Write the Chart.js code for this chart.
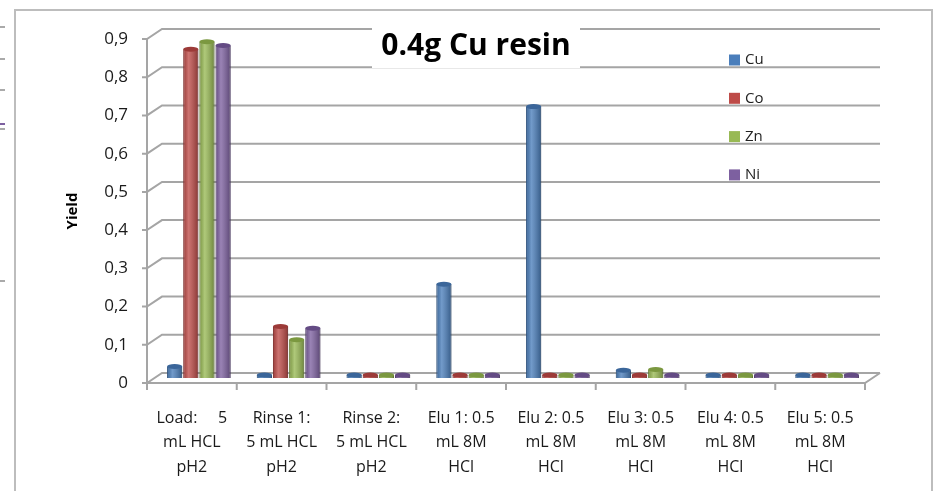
<!DOCTYPE html>
<html>
<head>
<meta charset="utf-8">
<script src="https://cdn.jsdelivr.net/npm/chart.js@4.4.1/dist/chart.umd.min.js"></script>
<style>
    body { margin: 0; background: #fff; }
    #wrap { position: relative; width: 936px; height: 491px; overflow: hidden; }
    #yieldChart { position: absolute; left: 0; top: 0; }
    .frame { position: absolute; left: 14px; top: 9px; width: 919px; height: 520px;
             border: 2px solid #bdbdbd; box-sizing: border-box; }
    .dash { position: absolute; left: 0; width: 5px; height: 2px; background: #aaa; }
</style>
</head>
<body>
<div id="wrap">
    <div class="dash" style="top:26px"></div>
    <div class="dash" style="top:58px"></div>
    <div class="dash" style="top:89px"></div>
    <div class="dash" style="top:123px;background:#7d60a0"></div>
    <div class="dash" style="top:128px"></div>
    <div class="dash" style="top:280px"></div>
    <div class="frame"></div>
    <canvas id="yieldChart" width="936" height="491"></canvas>
</div>
<script>
const categories = [
    ['Load:     5', 'mL HCL', 'pH2'],
    ['Rinse 1:', '5 mL HCL', 'pH2'],
    ['Rinse 2:', '5 mL HCL', 'pH2'],
    ['Elu 1: 0.5', 'mL 8M', 'HCl'],
    ['Elu 2: 0.5', 'mL 8M', 'HCl'],
    ['Elu 3: 0.5', 'mL 8M', 'HCl'],
    ['Elu 4: 0.5', 'mL 8M', 'HCl'],
    ['Elu 5: 0.5', 'mL 8M', 'HCl']
];

const cuValues = [0.03, 0.002, 0.002, 0.245, 0.71, 0.02, 0.002, 0.002];
const coValues = [0.86, 0.135, 0.002, 0.003, 0.005, 0.003, 0.002, 0.002];
const znValues = [0.88, 0.10, 0.002, 0.002, 0.003, 0.022, 0.002, 0.002];
const niValues = [0.87, 0.13, 0.002, 0.002, 0.003, 0.003, 0.002, 0.002];

const yTickLabels = ['0', '0,1', '0,2', '0,3', '0,4', '0,5', '0,6', '0,7', '0,8', '0,9'];

const chartTitle = '0.4g Cu resin';

// 3D look: back wall offset and half-depth shift for the bars
const depthX = 15, depthY = 10;
const barShiftX = 7, barShiftY = -5;

const darker = {
    '#4a7ebb': '#3b669a',
    '#be4b48': '#9c3a38',
    '#98b954': '#7b9840',
    '#7d60a0': '#644b84'
};

const excel3d = {
    id: 'excel3d',
    beforeDatasetsDraw(chart) {
        const ctx = chart.ctx;
        const a = chart.chartArea;
        const y = chart.scales.y;
        ctx.save();
        ctx.strokeStyle = '#a5a5a5';
        ctx.lineWidth = 2;
        ctx.beginPath();
        y.ticks.forEach((t, i) => {
            const py = y.getPixelForTick(i);
            ctx.moveTo(a.left - 5, py);
            ctx.lineTo(a.left, py);
            ctx.lineTo(a.left + depthX, py - depthY);
            ctx.lineTo(a.right + depthX, py - depthY);
        });
        ctx.moveTo(a.left, a.top);
        ctx.lineTo(a.left, a.bottom);
        ctx.lineTo(a.right, a.bottom);
        ctx.lineTo(a.right + depthX, a.bottom - depthY);
        const n = chart.data.labels.length;
        for (let i = 0; i <= n; i++) {
            const px = a.left + (a.right - a.left) * i / n;
            ctx.moveTo(px, a.bottom);
            ctx.lineTo(px, a.bottom + 7);
        }
        ctx.stroke();

        // title box over the wall
        ctx.fillStyle = '#fff';
        ctx.fillRect(372, 24, 208, 44);
        ctx.fillStyle = '#000';
        ctx.font = 'bold 30px "Open Sans"';
        ctx.textAlign = 'center';
        ctx.textBaseline = 'middle';
        ctx.fillText(chartTitle, 476, 46);
        ctx.restore();

        ctx.save();
        ctx.translate(barShiftX, barShiftY);
    },
    afterDatasetsDraw(chart) {
        const ctx = chart.ctx;
        chart.data.datasets.forEach((ds, di) => {
            chart.getDatasetMeta(di).data.forEach(bar => {
                const w = bar.width;
                const left = bar.x - w / 2;
                const top = Math.min(bar.y, bar.base);
                const h = Math.abs(bar.base - bar.y);
                const g = ctx.createLinearGradient(left, 0, left + w, 0);
                g.addColorStop(0, 'rgba(0,0,0,0.18)');
                g.addColorStop(0.35, 'rgba(255,255,255,0.22)');
                g.addColorStop(1, 'rgba(0,0,0,0.28)');
                ctx.fillStyle = g;
                ctx.fillRect(left, top, w, h);
                ctx.beginPath();
                ctx.ellipse(bar.x, top, w / 2, 2.5, 0, 0, Math.PI * 2);
                ctx.fillStyle = darker[ds.backgroundColor];
                ctx.fill();
            });
        });
        ctx.restore();
    },
    afterDraw(chart) {
        const ctx = chart.ctx;
        ctx.save();
        ctx.font = '15px "Open Sans"';
        ctx.textBaseline = 'middle';
        ctx.textAlign = 'left';
        chart.data.datasets.forEach((ds, i) => {
            const cy = 60 + i * 38.3;
            ctx.fillStyle = ds.backgroundColor;
            ctx.fillRect(729, cy - 5.5, 11, 11);
            ctx.fillStyle = '#222';
            ctx.fillText(ds.label, 745, cy);
        });
        ctx.restore();
    }
};

function makeSet(label, values, color) {
    return {
        label: label,
        data: values,
        backgroundColor: color,
        borderColor: darker[color],
        borderWidth: 1,
        minBarLength: 3,
        barPercentage: 0.94,
        categoryPercentage: 0.72
    };
}

new Chart(document.getElementById('yieldChart'), {
    type: 'bar',
    data: {
        labels: categories,
        datasets: [
            makeSet('Cu', cuValues, '#4a7ebb'),
            makeSet('Co', coValues, '#be4b48'),
            makeSet('Zn', znValues, '#98b954'),
            makeSet('Ni', niValues, '#7d60a0')
        ]
    },
    plugins: [excel3d],
    options: {
        responsive: false,
        animation: false,
        devicePixelRatio: 1,
        layout: {
            padding: { top: 39, right: 71, left: 0, bottom: 0 }
        },
        plugins: {
            legend: { display: false },
            tooltip: { enabled: false }
        },
        scales: {
            x: {
                grid: { display: false, drawTicks: false },
                border: { display: false },
                ticks: {
                    color: '#1a1a1a',
                    font: { family: 'Open Sans', size: 16, lineHeight: 1.53 },
                    padding: 23,
                    maxRotation: 0,
                    autoSkip: false
                },
                afterFit: (s) => { s.height = 108; }
            },
            y: {
                min: 0,
                max: 0.9,
                grid: { display: false, drawTicks: false },
                border: { display: false },
                ticks: {
                    stepSize: 0.1,
                    color: '#1a1a1a',
                    font: { family: 'Open Sans', size: 17 },
                    padding: 19,
                    callback: (v, i) => yTickLabels[i]
                },
                title: {
                    display: true,
                    text: 'Yield',
                    color: '#000',
                    font: { family: 'Open Sans', size: 15, weight: 'bold' },
                    padding: { top: 64, bottom: 0 }
                },
                afterFit: (s) => { s.width = 147; }
            }
        }
    }
});
</script>
</body>
</html>
